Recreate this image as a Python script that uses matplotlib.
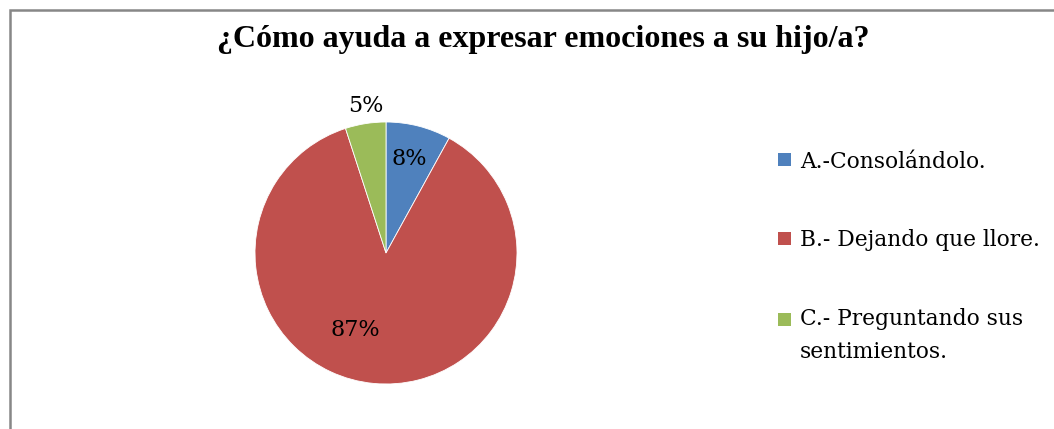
import numpy as np
import matplotlib
matplotlib.use("Agg")
import matplotlib.pyplot as plt
from matplotlib.patches import Rectangle
from matplotlib.legend_handler import HandlerPatch

# datos
categorias = ["A.-Consolándolo.", "B.- Dejando que llore.", "C.- Preguntando sus\nsentimientos."]
porcentajes = [8, 87, 5]
colores = ["#4F81BD", "#C0504D", "#9BBB59"]
titulo = "¿Cómo ayuda a expresar emociones a su hijo/a?"

W, H = 1054, 429
fig = plt.figure(figsize=(W / 100, H / 100), dpi=100)

# marco gris (solo izquierda y arriba visibles)
fig.add_artist(Rectangle((9.5 / W, -0.2), 2.0, 1.2 - 9.5 / H, transform=fig.transFigure,
                         fill=False, edgecolor="#878787", lw=1.8))

fig.text(543 / W, 1 - 40 / H, titulo, ha="center", va="center",
         family="Liberation Serif", weight="bold", fontsize=23)

# pastel
cx, cy, r = 386, 253, 131
ax = fig.add_axes([(cx - r) / W, (H - cy - r) / H, 2 * r / W, 2 * r / H])
wedges, textos, pct = ax.pie(porcentajes, colors=colores, startangle=90, counterclock=False,
                              autopct="%d%%", wedgeprops=dict(edgecolor="white", linewidth=0.6),
                              textprops=dict(family="DejaVu Serif", fontsize=16))
ax.set_xlim(-1, 1)
ax.set_ylim(-1, 1)

# posicion de etiquetas (radio, angulo)
pos_etiquetas = [(0.74, 76), (0.63, -112), (1.13, 98)]
for t, (rr, ang) in zip(pct, pos_etiquetas):
    a = np.deg2rad(ang)
    t.set_position((rr * np.cos(a), rr * np.sin(a)))


# cuadrito de leyenda, alineado con la primera linea del texto
class Cuadro(HandlerPatch):
    def __init__(self, subir=0.0):
        super().__init__()
        self.subir = subir

    def create_artists(self, legend, orig_handle, xdescent, ydescent, width, height, fontsize, trans):
        lado = 0.6 * fontsize
        y0 = -ydescent + height / 2 - lado / 2 + self.subir * fontsize
        p = Rectangle((-xdescent, y0), lado, lado, facecolor=orig_handle.get_facecolor(),
                      edgecolor="none", transform=trans)
        return [p]


fs_leg = 15.7
lsp = 1.65
mapa = {wedges[0]: Cuadro(), wedges[1]: Cuadro(), wedges[2]: Cuadro(0.5 * lsp * 0.93)}
leg = fig.legend(wedges, categorias, loc="upper left", bbox_to_anchor=(758 / W, 1 - 131 / H),
                 frameon=False, prop=dict(family="DejaVu Serif", size=fs_leg),
                 handler_map=mapa, handlelength=0.6, handleheight=0.6, handletextpad=0.42,
                 labelspacing=2.6)
for t in leg.get_texts():
    t.set_linespacing(lsp)

fig.savefig("out.png", dpi=100)
